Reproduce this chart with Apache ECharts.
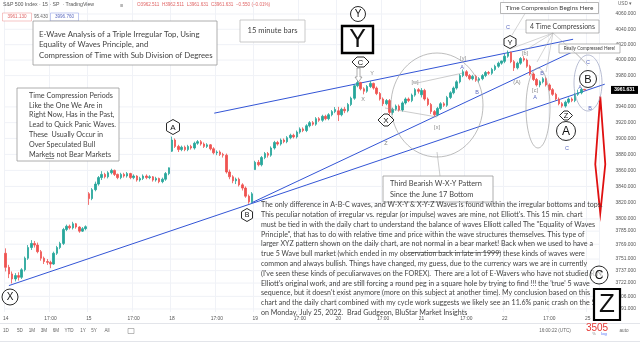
<!DOCTYPE html>
<html><head><meta charset="utf-8">
<script src="https://cdn.jsdelivr.net/npm/echarts@6/dist/echarts.min.js"></script>
<style>html,body{margin:0;padding:0;background:#fff}#c{width:640px;height:349px}</style>
</head><body><div id="c"></div><script>
// ---- data: 15-minute OHLC bars [open, close, low, high], S&P 500, July 2022 ----
const days = ['14','15','18','19','20','21','22'];
const futureDay = '25';
const jul14 = [[3758,3741,3736,3764],[3741,3733,3728,3744],[3733,3727,3721.6,3736],[3727,3731,3724,3734],[3731,3729,3725,3735],[3729,3738,3727,3740],[3738,3752,3736,3754],[3752,3765,3750,3768],[3765,3770,3762,3774],[3770,3768,3765,3773],[3768,3760,3758,3771],[3760,3752,3749,3762],[3752,3748,3745,3754],[3748,3747,3744,3751],[3747,3745,3740,3749],[3745,3758,3744,3760],[3758,3765,3756,3767],[3765,3770,3763,3772],[3770,3787,3768,3789],[3787,3791,3785,3793],[3791,3789,3787,3793],[3789,3794,3787,3796.4],[3794,3790,3788,3795],[3790,3785,3783,3791],[3785,3788,3784,3790],[3788,3790.4,3786,3792]];
const jul15 = [[3831,3825,3817.2,3833],[3825,3836,3823,3838],[3836,3843,3834,3846],[3843,3851,3841,3853],[3851,3855,3848,3859],[3855,3852,3850,3857],[3852,3857,3850,3859],[3857,3860,3855,3862],[3860,3855,3853,3861],[3855,3851,3849,3856],[3851,3855,3849,3857],[3855,3853,3851,3857],[3853,3856,3851,3858],[3856,3851,3849,3857],[3851,3853,3849,3855],[3853,3848,3846,3854],[3848,3850,3846,3852],[3850,3853,3848,3855],[3853,3851,3849,3855],[3851,3852,3849,3854],[3852,3848,3846,3853],[3848,3850,3846,3852],[3850,3846,3844,3851],[3846,3849,3844,3851],[3849,3856,3847,3858],[3856,3863.2,3854,3863.6]];
const jul18 = [[3884,3898,3883,3902.4],[3898,3890,3888,3900],[3890,3886,3883,3892],[3886,3889,3884,3891],[3889,3886,3884,3891],[3886,3890,3884,3892],[3890,3888,3886,3892],[3888,3894,3886,3896],[3894,3896,3892,3898],[3896,3893,3891,3898],[3893,3890,3888,3895],[3890,3892,3888,3894],[3892,3887,3885,3893],[3887,3882,3880,3889],[3882,3883,3879,3885],[3883,3880,3878,3885],[3880,3879,3876,3882],[3879,3858,3856,3881],[3858,3852,3849,3861],[3852,3847,3844,3854],[3847,3849,3843,3851],[3849,3842,3840,3851],[3842,3838,3835,3844],[3838,3828,3826,3840],[3828,3821,3818.6,3830],[3821,3830.9,3819,3833]];
const jul19 = [[3861,3870,3860.7,3872],[3870,3867,3865,3873],[3867,3876,3865,3878],[3876,3881,3874,3883],[3881,3879,3876,3883],[3879,3888,3877,3890],[3888,3895,3886,3897],[3895,3893,3891,3897],[3893,3898,3891,3900],[3898,3896,3894,3900],[3896,3901,3894,3903],[3901,3904,3899,3906],[3904,3902,3900,3906],[3902,3908,3900,3910],[3908,3912,3906,3914],[3912,3910,3908,3914],[3910,3916,3908,3918],[3916,3920,3914,3922],[3920,3918,3916,3922],[3918,3925,3916,3927],[3925,3923,3921,3927],[3923,3928,3921,3930],[3928,3925,3923,3930],[3925,3930,3923,3932],[3930,3934,3928,3936],[3934,3936.7,3932,3939.8]];
const jul20 = [[3935,3930,3922,3940],[3930,3937,3928,3939],[3937,3935,3932,3940],[3935,3943,3933,3945],[3943,3951,3941,3953],[3951,3967,3949,3969],[3967,3971,3965,3974.1],[3971,3963,3961,3972],[3963,3960,3956,3965],[3960,3966,3958,3968],[3966,3970,3964,3973],[3970,3964,3962,3971],[3964,3957,3955,3966],[3957,3950,3948,3959],[3950,3944,3941,3952],[3944,3948,3942,3950],[3948,3933,3930,3950],[3933,3937,3930,3939],[3937,3941,3935,3943],[3941,3936,3934,3943],[3936,3945,3934,3947],[3945,3950,3943,3952],[3950,3948,3946,3952],[3948,3955,3946,3957],[3955,3962,3953,3964],[3962,3959.9,3957,3964]];
const jul21 = [[3955.5,3961,3952,3964],[3961,3950,3948,3963],[3950,3943,3941,3952],[3943,3934,3931,3945],[3934,3930,3927.6,3936],[3930,3938,3928,3940],[3938,3944,3936,3946],[3944,3942,3940,3946],[3942,3952,3940,3954],[3952,3958,3950,3960],[3958,3964,3956,3966],[3964,3972,3962,3974],[3972,3980,3970,3982],[3980,3985,3978,3988],[3985,3980,3978,3987],[3980,3976,3974,3982],[3976,3979,3974,3981],[3979,3974,3972,3981],[3974,3976,3971,3978],[3976,3980,3974,3982],[3980,3984,3978,3986],[3984,3983,3981,3986],[3983,3988,3981,3990],[3988,3992,3986,3994],[3992,3996,3990,3998],[3996,3998.9,3994,3999.3]];
const jul22 = [[3998.4,4005,3996,4008],[4005,4010,4003,4012.4],[4010,3998,3996,4011],[3998,3990,3986,4000],[3990,3996,3988,3998],[3996,4002,3994,4004],[4002,4000,3998,4005],[4000,3992,3990,4002],[3992,3982,3980,3994],[3982,3975,3973,3984],[3975,3968,3966,3977],[3968,3972,3965,3974],[3972,3976,3970,3978],[3976,3968,3966,3978],[3968,3962,3960,3970],[3962,3956,3954,3964],[3956,3950,3948,3958],[3950,3944,3942,3952],[3944,3941,3938.9,3946],[3941,3946,3939,3948],[3946,3950,3944,3952],[3950,3948,3946,3952],[3948,3956,3946,3958],[3956,3958,3954,3962],[3958,3962.5,3956,3964],[3962.5,3961.6,3961.6,3962.5]];
const priceTicks = [4060,4040,4020,4000,3980,3940,3920,3900,3880,3860,3840,3820,3800,3785,3769,3751,3737,3722,3706,3691];
const lastPrice = 3961.631;
// trendlines: [startBar, startPrice, endBar, endPrice]
const trendlines = [[65.2,3932,177.4,4027],[77,3820,180.5,4017],[1,3719,187.3,3969]];
// projected drop (red double arrow): [bar, fromPrice, toPrice]
const projection = [185.9, 3953, 3807];
const barsPerDay = 26, futureSlots = 4;

// ---- build categories ----
const bars = [].concat(jul14, jul15, jul18, jul19, jul20, jul21, jul22);
const categories = [], timeLabels = [];
days.concat([futureDay]).forEach((d, di) => {
  const n = di < days.length ? barsPerDay : futureSlots;
  for (let k = 0; k < n; k++) {
    categories.push(d + ' #' + k);
    timeLabels.push(k === 0 ? d : (k === 14 ? '17:00' : ''));
  }
});

const yTop = 4078.4, yBot = 3687.4;
const FONT = 'Lato, "Liberation Sans", sans-serif';
const AX = '"Liberation Sans", sans-serif';

// ---- annotation graphics ----
const g = [];
function T(x, y, s, size, color, o) {
  o = o || {};
  g.push({type:'text', x, y, z:100, silent:true, style:{text:s, fill:color||'#333', font:(o.w||'normal')+' '+size+'px '+(o.f||FONT), align:o.a||'left', verticalAlign:o.v||'middle'}});
}
function R(x, y, w, h, stroke, lw, fill) { g.push({type:'rect', z:99, silent:true, shape:{x, y, width:w, height:h}, style:{stroke, lineWidth:lw, fill:fill||'#fff'}}); }
function L(x1, y1, x2, y2, stroke, lw) { g.push({type:'line', z:99, silent:true, shape:{x1, y1, x2, y2}, style:{stroke, lineWidth:lw}}); }
function C(cx, cy, r, letter, size, lw) { g.push({type:'circle', z:100, silent:true, shape:{cx, cy, r}, style:{stroke:'#111', lineWidth:lw||0.9, fill:'rgba(255,255,255,0.6)'}}); T(cx, cy+0.5, letter, size, '#111', {a:'center', f:AX}); }
function E(cx, cy, rx, ry, stroke) { g.push({type:'ellipse', z:98, silent:true, shape:{cx, cy, rx, ry}, style:{stroke:stroke||'#a0a0a0', lineWidth:0.7, fill:null}}); }
function HexV(cx, cy, w, h, letter, size) {
  g.push({type:'polygon', z:100, silent:true, shape:{points:[[cx,cy-h/2],[cx+w/2,cy-h/4],[cx+w/2,cy+h/4],[cx,cy+h/2],[cx-w/2,cy+h/4],[cx-w/2,cy-h/4]]}, style:{stroke:'#111', lineWidth:0.9, fill:'#fff'}});
  T(cx, cy+0.5, letter, size, '#111', {a:'center', f:AX});
}
function HexH(cx, cy, w, h, letter, size) {
  const s = h * 0.5;
  g.push({type:'polygon', z:100, silent:true, shape:{points:[[cx-w/2,cy],[cx-w/2+s,cy-h/2],[cx+w/2-s,cy-h/2],[cx+w/2,cy],[cx+w/2-s,cy+h/2],[cx-w/2+s,cy+h/2]]}, style:{stroke:'#111', lineWidth:0.9, fill:'#fff'}});
  T(cx, cy+0.5, letter, size, '#111', {a:'center', f:AX});
}

// header
T(3, 5, 'S&P 500 Index · 15 · SP  · TradingView', 5.2, '#555', {f:AX});
T(120, 5, '≡', 5.5, '#777', {f:AX});
T(137, 5, 'O3962.511  H3962.511  L3961.631  C3961.631  −0.550 (−0.01%)', 4.6, '#e06666', {f:AX});
R(2.5, 13, 29, 8, '#f0a0a0', 0.6); T(17, 17.2, '3961.130', 4.6, '#e06666', {a:'center', f:AX});
T(41, 17.2, '95.430', 4.6, '#666', {a:'center', f:AX});
R(50.5, 13, 28, 8, '#9aa8e8', 0.6); T(64.5, 17.2, '3996.760', 4.6, '#5c6bc0', {a:'center', f:AX});
T(625, 3.5, 'USD ▾', 4.6, '#666', {a:'center', f:AX});

// title box
R(33, 21, 184, 44, '#9a9a9a', 0.8);
T(39, 34, 'E-Wave Analysis of a Triple Irregular Top, Using', 7.8, '#444');
T(39, 44.5, 'Equality of Waves Principle, and', 7.8, '#444');
T(39, 55, 'Compression of Time with Sub Division of Degrees', 7.8, '#444');
// 15 minute bars
R(240, 20, 65, 22, '#bbb', 0.8);
T(272.5, 31, '15 minute bars', 7.6, '#444', {a:'center'});
// left box
R(17, 88, 102, 73, '#9a9a9a', 0.8);
['Time Compression Periods','Like the One We Are in','Right Now, Has in the Past,','Lead to Quick Panic Waves.','These  Usually Occur in','Over Speculated Bull','Markets not Bear Markets'].forEach((s, i) => T(29, 95.5 + i * 9.8, s, 7.2, '#444'));
L(45.5, 158.5, 54, 158.5, '#444', 0.6);

// top-right notes
R(500.5, 2.5, 98, 11, '#9a9a9a', 0.7); T(549.5, 8.3, 'Time Compression Begins Here', 6.4, '#444', {a:'center'});
R(526, 20, 73, 13, '#9a9a9a', 0.7); T(562.5, 26.8, '4 Time Compressions', 6.9, '#444', {a:'center'});
R(559, 44, 61, 9, '#9a9a9a', 0.7); T(589.5, 48.7, 'Really Compressed Here!', 4.7, '#444', {a:'center'});
[[510,49],[524,51],[537,62],[546,72],[585,62]].forEach(p => L(553, 33, p[0], p[1], '#aaa', 0.5));
L(525, 13.5, 512, 35, '#aaa', 0.5);
L(576, 53, 588, 66, '#aaa', 0.5);

// third bearish box
R(383, 176, 110, 26, '#9a9a9a', 0.8);
T(390, 184, 'Third Bearish W-X-Y Pattern', 7.4, '#444');
T(390, 195, 'Since the June 17 Bottom', 7.4, '#444');
L(440, 176, 437, 152, '#aaa', 0.6);

// paragraph
const para = [
 'The only difference in A-B-C waves, and W-X-Y & X-Y-Z Waves is found within the irregular bottoms and tops.',
 'This peculiar notation of irregular vs. regular (or impulse) waves are mine, not Elliott\'s. This 15 min. chart',
 'must be tied in with the daily chart to understand the balance of waves Elliott called The "Equality of Waves',
 'Principle", that has to do with relative time and price within the wave structures themselves. This type of',
 'larger XYZ pattern shown on the daily chart, are not normal in a bear market! Back when we used to have a',
 'true 5 Wave bull market (which ended in my observation back in late in 1999) these kinds of waves were',
 'common and always bullish. Things have changed, my guess, due to the currency wars we are in currently',
 '(I\'ve seen these kinds of peculiarwaves on the FOREX).  There are a lot of E-Wavers who have not studied R.N.',
 'Elliott\'s original work, and are still forcing a round peg in a square hole by trying to find !!! the \'true\' 5 wave',
 'sequence, but it doesn\'t exist anymore (more on this subject at another time). My conclusion based on this',
 'chart and the daily chart combined with my cycle work suggests we likely see an 11.6% panic crash on the SPX',
 'on Monday, July 25, 2022.  Brad Gudgeon, BluStar Market Insights'
];
para.forEach((s, i) => T(261, 205 + i * 9.8, s, 7.1, '#444'));
L(408, 252.5, 501, 252.5, '#444', 0.6);

// wave labels
C(10, 297, 8, 'X', 10);
HexV(173, 127, 13, 15, 'A', 8);
HexV(247, 215, 11, 13, 'B', 7);
C(358, 14, 7.5, 'Y', 10);
g.push({type:'rect', z:100, silent:true, shape:{x:342, y:26, width:31, height:27}, style:{stroke:'#000', lineWidth:2.4, fill:'#fff'}});
T(357.5, 40.5, 'Y', 25, '#111', {a:'center', f:AX});
HexH(360.5, 62, 17, 10, 'C', 7.5);
g.push({type:'polygon', z:100, silent:true, shape:{points:[[357,68],[360,68],[360,77],[362,77],[358.5,82],[355,77],[357,77]]}, style:{stroke:'#777', lineWidth:0.6, fill:'#fff'}});
HexH(386, 120, 16, 12, 'X', 8);
HexV(510, 42, 12, 13, 'Y', 7.5);
HexH(566, 115.5, 13, 9, 'Z', 7.5);
C(566, 131, 9.5, 'A', 12);
C(588, 79, 8.5, 'B', 11);
C(599, 275, 9, 'C', 12);
g.push({type:'rect', z:100, silent:true, shape:{x:594, y:289, width:26, height:31}, style:{stroke:'#000', lineWidth:2.2, fill:'#fff'}});
T(607, 305, 'Z', 26, '#111', {a:'center', f:AX});

// small wave notations
const grey = '#888', blue = '#5c6bc0';
[[372,73,'Y',grey],[363,99,'X',grey],[386,143,'Z',grey],[415,82,'[w]',grey],[437,127,'[x]',grey],[463,58,'[y]',grey],[462,67,'A',blue],[477,92,'B',blue],[517,82,'(A)',grey],[525,53,'[b]',grey],[542,73,'B',blue],[535,90,'[c]',grey],[535,97,'A',blue],[508,27,'C',blue],[580,87,'A',blue],[588,62,'C',blue],[590,108,'B',blue],[567,148,'C',blue]].forEach(a => T(a[0], a[1], a[2], 5.5, a[3], {a:'center', f:AX}));
L(385, 108, 437, 117, '#999', 0.5);
L(417, 83, 463, 73, '#999', 0.5);

// ellipses
E(437, 105, 46, 52);
E(538, 108, 12, 40);
E(588, 83, 14, 28, '#9aa0c0');

// bottom toolbar
L(0, 323.5, 640, 323.5, '#e3e5ea', 1);
L(0, 341.5, 640, 341.5, '#e3e5ea', 1);
['1D','5D','1M','3M','6M','YTD','1Y','5Y','All'].forEach((s, i) => T([6,20,32,44,56,69,83,94,107][i], 331, s, 4.6, '#666', {a:'center', f:AX}));
R(128, 328.5, 6, 5, '#777', 0.5);
T(555, 331, '16:00:22 (UTC)', 4.6, '#666', {a:'center', f:AX});
T(597, 328.5, '3505', 10, '#e53935', {a:'center', f:AX});
T(594, 334, '%', 4, '#888', {a:'center', f:AX});
T(604, 334, 'log', 4, '#4a6cf7', {a:'center', f:AX});
T(624, 331, 'auto', 4.6, '#666', {a:'center', f:AX});

// ---- series ----
function px(api, i) { const a = api.coord([0, yTop])[0], b = api.coord([1, yTop])[0]; return a + i * (b - a); }

const gridSeries = {
  type:'custom', coordinateSystem:'cartesian2d', clip:false, silent:true, z:1,
  data: priceTicks.map(v => [0, v]),
  renderItem(params, api) {
    const cs = params.coordSys, v = api.value(1), y = api.coord([0, v])[1];
    return {type:'group', children:[
      {type:'line', shape:{x1:cs.x, y1:y, x2:cs.x + cs.width, y2:y}, style:{stroke:'#f0f2f7', lineWidth:1}},
      {type:'text', style:{text:v.toFixed(3), x:636, y:y, align:'right', verticalAlign:'middle', fill:'#555', font:'4.9px ' + AX}}
    ]};
  }
};
const lastSeries = {
  type:'custom', coordinateSystem:'cartesian2d', clip:false, silent:true, z:20,
  data: [[bars.length - 1, lastPrice]],
  renderItem(params, api) {
    const y = api.coord([0, api.value(1)])[1];
    return {type:'group', children:[
      {type:'rect', shape:{x:611, y:y - 4, width:27, height:8}, style:{fill:'#000'}},
      {type:'text', style:{text:lastPrice.toFixed(3), x:624.5, y:y, align:'center', verticalAlign:'middle', fill:'#fff', font:'bold 4.9px ' + AX}}
    ]};
  }
};
const trendSeries = {
  type:'custom', coordinateSystem:'cartesian2d', clip:false, silent:true, z:5,
  data: trendlines.map((t, i) => [0, t[1], i]),
  renderItem(params, api) {
    const t = trendlines[params.dataIndex];
    return {type:'line', shape:{x1:px(api, t[0]), y1:api.coord([0, t[1]])[1], x2:px(api, t[2]), y2:api.coord([0, t[3]])[1]}, style:{stroke:'#3355d6', lineWidth:1}};
  }
};
const projSeries = {
  type:'custom', coordinateSystem:'cartesian2d', clip:false, silent:true, z:30,
  data: [[0, projection[1]]],
  renderItem(params, api) {
    const x = px(api, projection[0]);
    const y1 = api.coord([0, projection[1]])[1], y2 = api.coord([0, projection[2]])[1];
    const ym = y1 + 0.58 * (y2 - y1);
    return {type:'polygon', shape:{points:[[x, y1], [x - 5, ym], [x, y2], [x + 5, ym]]}, style:{stroke:'#e01010', lineWidth:1.8, fill:null}};
  }
};

const chart = echarts.init(document.getElementById('c'), null, {renderer:'canvas'});
chart.setOption({
  animation:false,
  backgroundColor:'#fff',
  grid:{left:2, right:41, top:0, bottom:37},
  xAxis:{type:'category', data:categories, boundaryGap:true,
    axisLine:{show:false}, axisTick:{show:false},
    axisLabel:{interval:(i) => timeLabels[i] !== '', formatter:(v, i) => timeLabels[i], fontSize:4.9, color:'#555', margin:4.5, fontFamily:AX},
    splitLine:{show:true, interval:(i) => timeLabels[i] !== '', lineStyle:{color:'#f0f2f7', width:1}}},
  yAxis:{type:'log', logBase:10, min:yBot, max:yTop, position:'right', scale:true,
    axisLine:{show:false}, axisTick:{show:false}, axisLabel:{show:false}, splitLine:{show:false}},
  series:[gridSeries, trendSeries,
    {type:'candlestick', data:bars, barWidth:2, z:10,
     itemStyle:{color:'#26a69a', color0:'#ef5350', borderColor:'#26a69a', borderColor0:'#ef5350', borderWidth:0.8}},
    lastSeries, projSeries],
  graphic: g
});
</script></body></html>
